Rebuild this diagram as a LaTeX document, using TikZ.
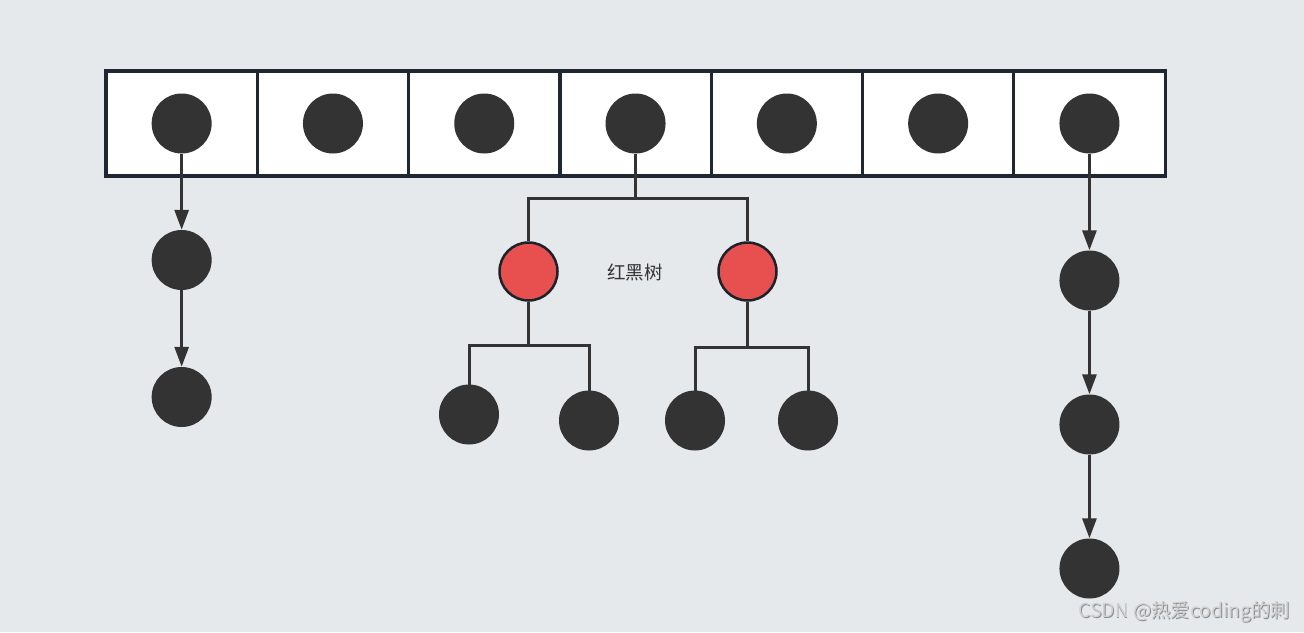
\documentclass[tikz,border=0pt]{standalone}
\usepackage{fontspec}
\newfontfamily\cjk{Noto Sans CJK SC}
\usetikzlibrary{arrows.meta}
\definecolor{bg}{HTML}{E6E9EC}
\definecolor{dark}{HTML}{333333}
\definecolor{edge}{HTML}{1F2832}
\definecolor{redfill}{HTML}{E84F4F}
\tikzset{
  cell/.style={draw=edge, line width=3.2pt, fill=white, minimum width=151.3pt, minimum height=105pt, inner sep=0pt},
  blk/.style={circle, fill=dark, minimum size=60pt, inner sep=0pt},
  rednode/.style={circle, fill=redfill, draw=edge!85!black, line width=2.5pt, minimum size=58pt, inner sep=0pt},
  arr/.style={draw=dark, line width=3pt, -{Triangle[length=20pt,width=14pt]}},
  tree/.style={draw=dark, line width=3pt},
  wmk/.style={anchor=east, font=\cjk\fontsize{19.3}{21}\selectfont, inner sep=0pt},
}
\begin{document}
\begin{tikzpicture}[x=1pt,y=-1pt]
\fill[bg] (0,0) rectangle (1304,632);
\useasboundingbox (0,0) rectangle (1304,632);
% array cells
\foreach \i in {1,...,7} {
  \node[cell] (b\i) at ({106+151.3*(\i-0.5)},123.5) {};
}
\foreach \i in {1,...,7} {
  \node[blk] (c\i) at (b\i) {};
}
% left chain
\node[blk] (l1) at (c1 |- 0,260) {};
\node[blk] (l2) at (c1 |- 0,397) {};
\draw[arr] (c1) -- (l1);
\draw[arr] (l1) -- (l2);
% right chain
\node[blk] (g1) at (c7 |- 0,280.5) {};
\node[blk] (g2) at (c7 |- 0,424.5) {};
\node[blk] (g3) at (c7 |- 0,568.5) {};
\draw[arr] (c7) -- (g1);
\draw[arr] (g1) -- (g2);
\draw[arr] (g2) -- (g3);
% tree
\node[rednode] (r1) at (528.5,271.5) {};
\node[rednode] (r2) at (747.5,271.5) {};
\node[text=dark, font=\cjk\fontsize{18.5}{20}\selectfont] (lbl) at (635,273) {红黑树};
\coordinate (t0) at (c4 |- 0,198);
\draw[tree] (c4.south) -- (t0);
\draw[tree] (r1.north) |- (t0) -| (r2.north);
\node[blk] (k1) at (469,414.5) {};
\node[blk] (k2) at (589,420.5) {};
\node[blk] (k3) at (695,420.5) {};
\node[blk] (k4) at (808,420.5) {};
\coordinate (t1) at (528.5,345);
\coordinate (t2) at (747.5,347);
\draw[tree] (r1.south) -- (t1);
\draw[tree] ([yshift=-1pt]k1.north) |- (t1) -| ([yshift=-3pt]k2.north);
\draw[tree] (r2.south) -- (t2);
\draw[tree] ([yshift=-3pt]k3.north) |- (t2) -| ([yshift=-3pt]k4.north);
% watermark
\node[wmk, text=black!45] (wms) at (1290.8,612.8) {CSDN @热爱coding的刺};
\node[wmk, text=black!18] (wm) at (1290,612) {CSDN @热爱coding的刺};
\end{tikzpicture}
\end{document}
